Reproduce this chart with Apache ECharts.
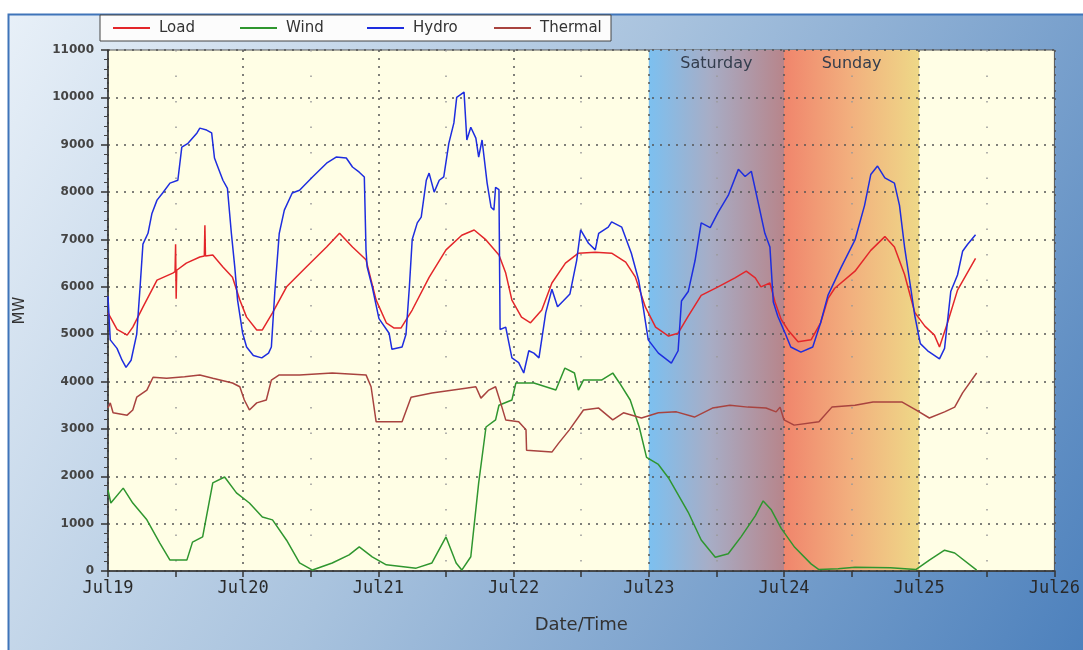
<!DOCTYPE html>
<html>
<head>
<meta charset="utf-8">
<script src="https://cdn.jsdelivr.net/npm/echarts@6/dist/echarts.min.js"></script>
<style>
html,body{margin:0;padding:0;background:#fff;}
#chart{width:1083px;height:650px;}
</style>
</head>
<body>
<div id="chart"></div>
<script>
// x values are hours after Jul19 00:00
const dayLabels = ['Jul19','Jul20','Jul21','Jul22','Jul23','Jul24','Jul25','Jul26'];
const seriesNames = ['Load','Wind','Hydro','Thermal'];
const weekendNames = ['Saturday','Sunday'];
const weekendStart = [96, 120];
const weekendEnd = [120, 144];

const loadHours = [0,1.6,3.4,4.4,6.2,8.7,11.5,11.9,12.0,12.1,12.2,13.9,16.3,17.1,17.2,17.3,18.6,20.4,22.1,23.4,24.6,26.4,27.4,29.2,31.7,35.2,38.8,41.1,43.4,45.8,47.6,49.4,50.8,52.0,54.0,57.0,60.0,62.8,65.0,67.1,69.4,70.6,71.7,73.4,75.0,77.0,78.8,81.2,83.5,86.5,89.4,91.9,93.6,95.4,97.2,99.5,101.2,103.0,105.3,108.3,111.3,113.3,114.9,115.9,117.5,118.4,119.5,120.7,122.5,124.8,126.5,127.8,129.0,132.6,135.4,137.9,139.6,141.4,143.2,145.0,146.7,147.6,149.0,150.8,154.0];
const loadMW = [5450,5100,4980,5150,5570,6140,6290,6320,6900,5750,6350,6500,6630,6650,7300,6650,6670,6420,6200,5720,5360,5090,5090,5450,6000,6420,6840,7130,6840,6570,5720,5240,5130,5130,5510,6200,6780,7090,7200,6990,6670,6290,5720,5360,5240,5510,6080,6500,6710,6730,6710,6520,6210,5570,5150,4960,5020,5380,5820,6000,6190,6330,6190,6000,6080,5680,5310,5090,4840,4880,5240,5750,5970,6330,6770,7060,6840,6260,5460,5170,4980,4730,5230,5930,6600];

const windHours = [0,0.5,2.7,4.4,6.9,9.2,11.0,14.0,15.0,16.8,18.6,20.7,22.8,25.1,27.4,29.2,31.7,34.0,36.3,39.8,42.8,44.6,46.9,49.4,54.7,57.5,60.0,61.8,62.8,64.4,65.8,67.1,68.8,69.4,71.7,72.4,75.6,79.5,81.1,82.8,83.5,84.4,87.6,89.6,90.8,92.7,94.3,95.6,97.7,99.5,103.0,105.3,107.8,110.1,112.4,114.9,116.3,117.7,119.5,121.9,124.8,126.2,129.6,132.6,138.9,143.4,145.8,148.5,150.3,154.2];
const windMW = [1710,1435,1750,1435,1080,590,230,230,610,720,1860,1985,1650,1435,1140,1080,650,170,20,170,340,510,300,130,60,170,720,170,20,300,1860,3040,3190,3500,3610,3970,3970,3820,4285,4180,3820,4030,4030,4180,3970,3610,3040,2400,2250,1965,1240,654,290,363,726,1163,1480,1300,900,500,150,30,50,80,70,30,230,440,380,20];

const hydroHours = [0,0.4,1.6,2.5,3.2,4.1,5.1,5.7,6.2,7.1,7.8,8.7,9.7,11.0,12.4,13.1,14.2,15.8,16.3,17.5,18.4,18.9,19.5,20.4,21.2,21.9,22.5,23.0,23.9,24.6,25.8,27.3,28.5,29.0,29.6,30.4,31.3,32.7,34.0,36.3,38.8,40.5,42.3,43.4,44.6,45.5,45.8,46.0,46.9,48.1,49.9,50.4,52.2,52.9,53.5,54.0,54.9,55.6,56.5,57.0,57.9,58.8,59.6,60.5,61.4,61.9,63.2,63.7,64.4,65.3,65.8,66.4,66.7,67.3,68.0,68.5,68.8,69.4,69.6,70.6,71.7,72.9,73.8,74.7,75.6,76.5,77.7,78.8,79.8,80.8,82.0,83.2,83.9,85.3,86.5,87.1,88.8,89.4,91.2,92.9,94.2,95.0,95.9,97.7,100.0,101.2,101.8,103.0,104.2,105.3,106.9,108.3,110.1,111.9,113.1,114.2,115.4,116.6,117.5,118.1,118.9,120.2,121.2,123.0,125.1,126.5,127.8,130.1,132.6,134.3,135.4,136.6,137.9,139.6,140.5,141.4,142.5,143.2,144.2,145.5,147.6,148.5,149.6,150.8,151.7,152.6,154.0];
const hydroMW = [5800,4880,4700,4450,4300,4450,5000,6000,6900,7130,7550,7830,7980,8190,8250,8950,9030,9250,9350,9310,9250,8720,8530,8250,8080,7130,6420,5720,5020,4730,4550,4500,4600,4730,5870,7130,7620,7980,8040,8320,8610,8740,8720,8530,8420,8320,6780,6420,6000,5330,5020,4680,4730,5000,6000,7000,7350,7470,8250,8400,8000,8250,8320,9030,9460,10000,10110,9100,9370,9140,8740,9100,9140,8190,7680,7620,8100,8050,5100,5150,4500,4400,4180,4650,4600,4500,5450,5950,5580,5700,5850,6560,7200,6920,6780,7130,7260,7370,7260,6710,6140,5570,4880,4600,4390,4650,5700,5900,6550,7350,7250,7570,7930,8480,8330,8440,7790,7130,6840,5680,5380,5020,4730,4620,4730,5240,5820,6400,6990,7720,8370,8550,8300,8190,7720,6840,5970,5400,4800,4650,4480,4700,5900,6250,6750,6900,7100];

const thermalHours = [0,0.4,0.9,3.4,4.4,5.1,6.9,8.0,10.4,13.6,16.3,18.6,22.1,23.4,24.2,25.1,26.4,28.1,29.0,30.4,34.0,39.8,45.8,46.7,47.6,52.2,53.8,57.5,63.5,65.3,66.2,67.6,68.8,69.7,70.6,72.9,74.2,74.3,78.8,80.0,81.9,84.4,87.1,89.6,91.5,94.7,97.7,100.9,104.1,107.3,110.4,113.6,116.8,118.6,119.3,120.0,121.8,126.2,128.5,132.6,135.8,140.9,143.4,145.8,148.5,150.3,151.7,154.2];
const thermalMW = [3440,3550,3340,3290,3400,3670,3820,4090,4070,4100,4140,4070,3970,3890,3610,3400,3550,3610,4030,4140,4140,4180,4140,3890,3150,3150,3670,3760,3860,3890,3650,3820,3890,3550,3190,3150,2980,2550,2510,2700,2980,3400,3440,3190,3340,3230,3340,3360,3250,3440,3500,3460,3440,3360,3460,3190,3080,3150,3460,3500,3570,3570,3400,3230,3360,3460,3760,4180];

const colors = {Load:'#e3262a', Wind:'#2f962f', Hydro:'#1e2ddf', Thermal:'#a8433f'};

function pairs(xs, ys){ return xs.map((x,i)=>[x, ys[i]]); }

const bandGradients = [
  {type:'linear',x:0,y:0,x2:1,y2:0,colorStops:[{offset:0,color:'#7cc0f0'},{offset:0.45,color:'#a7adc6'},{offset:1,color:'#b7858b'}]},
  {type:'linear',x:0,y:0,x2:1,y2:0,colorStops:[{offset:0,color:'#f0856c'},{offset:0.5,color:'#f2b07e'},{offset:1,color:'#eed887'}]}
];

const chart = echarts.init(document.getElementById('chart'), null, {renderer:'canvas'});

const lineSeries = [
  {name:'Load', x:loadHours, y:loadMW},
  {name:'Wind', x:windHours, y:windMW},
  {name:'Hydro', x:hydroHours, y:hydroMW},
  {name:'Thermal', x:thermalHours, y:thermalMW}
].map(s => ({
  name: s.name, type:'line', data: pairs(s.x, s.y), showSymbol:false, symbol:'none',
  z: 3, lineStyle:{color: colors[s.name], width:1.5}, itemStyle:{color: colors[s.name]}
}));

const option = {
  animation:false,
  backgroundColor:'#ffffff',
  graphic:[{
    type:'rect', z:-10, silent:true,
    shape:{x:8.5, y:14.5, width:1080, height:640},
    style:{
      fill:{type:'linear',x:0,y:0,x2:1,y2:1,global:false,colorStops:[{offset:0,color:'#e8f0f8'},{offset:0.45,color:'#a9c3de'},{offset:1,color:'#4c80bc'}]},
      stroke:'#3f74b9', lineWidth:2
    }
  }],
  legend:{
    left:100, top:15, padding:[5,5,5,13], itemWidth:37, itemHeight:2, itemGap:3,
    icon:'rect', backgroundColor:'#fcfcfc', borderColor:'#444', borderWidth:1,
    textStyle:{fontSize:15, color:'#333', fontFamily:'DejaVu Sans', width:78, lineHeight:16, padding:[0,0,0,4]},
    data:[
      {name:'Load'},{name:'Wind'},{name:'Hydro'},
      {name:'Thermal', textStyle:{width:66}}
    ]
  },
  grid:{left:108, right:26, top:50, bottom:79, show:true, backgroundColor:'#fffee5', borderColor:'#555', borderWidth:1},
  xAxis:{
    type:'value', min:0, max:168, interval:24, z:2,
    name:'Date/Time', nameLocation:'middle', nameGap:45,
    nameTextStyle:{fontSize:18, color:'#333', fontFamily:'DejaVu Sans'},
    axisLine:{show:true, onZero:false, lineStyle:{color:'#333', width:1.5}},
    axisTick:{show:true, length:6, lineStyle:{color:'#333', width:1.5}},
    minorTick:{show:true, splitNumber:2, length:6, lineStyle:{color:'#333', width:1.5}},
    splitLine:{show:true, lineStyle:{color:'#555', type:[2,6], width:1.5}},
    minorSplitLine:{show:true, lineStyle:{color:'#999', type:[1.5,24], width:1.5}},
    axisLabel:{formatter:v => dayLabels[Math.round(v/24)], fontFamily:'DejaVu Sans Mono', fontSize:17, color:'#2a2a2a', margin:9}
  },
  yAxis:{
    type:'value', min:0, max:11000, interval:1000, z:2,
    name:'MW', nameLocation:'middle', nameGap:80,
    nameTextStyle:{fontSize:15, color:'#333', fontFamily:'DejaVu Sans'},
    axisLine:{show:true, lineStyle:{color:'#333', width:1.5}},
    axisTick:{show:true, length:7, lineStyle:{color:'#333', width:1.5}},
    minorTick:{show:true, splitNumber:5, length:4, lineStyle:{color:'#444', width:1}},
    splitLine:{show:true, lineStyle:{color:'#555', type:[2,6], width:1.5}},
    axisLabel:{formatter:v => String(v), fontFamily:'DejaVu Sans', fontSize:12, fontWeight:'bold', color:'#444', margin:14}
  },
  series:[
    {
      name:'weekend', type:'line', data:[], z:1, silent:true,
      markArea:{
        silent:true,
        label:{show:true, position:'insideTop', distance:6, fontSize:16, color:'#333d4d', fontFamily:'DejaVu Sans'},
        data: weekendNames.map((n,i)=>[
          {name:n, xAxis:weekendStart[i], itemStyle:{color:bandGradients[i], opacity:1}},
          {xAxis:weekendEnd[i]}
        ])
      }
    }
  ].concat(lineSeries)
};
chart.setOption(option);
</script>
</body>
</html>
